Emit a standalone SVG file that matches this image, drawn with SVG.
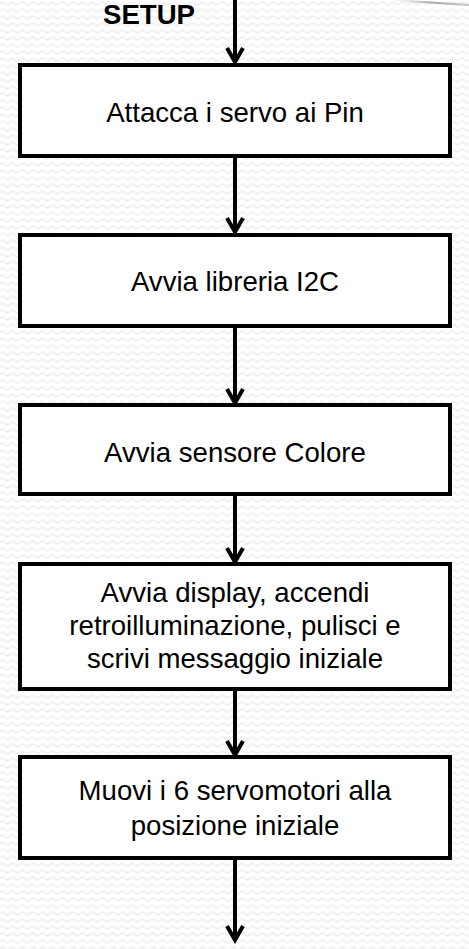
<svg xmlns="http://www.w3.org/2000/svg" width="469" height="949" viewBox="0 0 469 949">
<defs>
<pattern id="wave" width="10" height="7" patternUnits="userSpaceOnUse">
<rect width="10" height="7" fill="#ffffff"/>
<path d="M0 3.5 Q2.5 1 5 3.5 T10 3.5" fill="none" stroke="#f1f1f1" stroke-width="2"/>
</pattern>
<linearGradient id="edge" x1="0" y1="0" x2="1" y2="0">
<stop offset="0" stop-color="#d0d0d0" stop-opacity="0"/>
<stop offset="0.5" stop-color="#a8a8a8"/>
<stop offset="1" stop-color="#c8c8c8"/>
</linearGradient>
<marker id="arr" markerUnits="userSpaceOnUse" markerWidth="24" markerHeight="24" refX="20" refY="12" orient="auto" viewBox="0 0 24 24">
<polyline points="6,4 20,12 6,20" fill="none" stroke="#000" stroke-width="4" stroke-linejoin="miter"/>
</marker>
</defs>
<style>
.box{fill:#ffffff;stroke:#000;stroke-width:4}
.t{font-family:"Liberation Sans",Arial,sans-serif;font-size:27.6px;fill:#000;text-anchor:middle}
.c{fill:none;stroke:#000;stroke-width:4}
</style>
<rect width="469" height="949" fill="url(#wave)"/>
<path d="M392 0 L469 5" stroke="url(#edge)" stroke-width="2" fill="none"/>
<text x="149" y="24" class="t" style="font-weight:bold">SETUP</text>
<g id="connectors">
<line class="c" x1="235" y1="0" x2="235" y2="62" marker-end="url(#arr)"/>
<line class="c" x1="235" y1="156" x2="235" y2="232" marker-end="url(#arr)"/>
<line class="c" x1="235" y1="326" x2="235" y2="403" marker-end="url(#arr)"/>
<line class="c" x1="235" y1="494" x2="235" y2="562" marker-end="url(#arr)"/>
<line class="c" x1="235" y1="689" x2="235" y2="755" marker-end="url(#arr)"/>
<line class="c" x1="235" y1="858" x2="235" y2="940" marker-end="url(#arr)"/>
</g>
<g id="n1">
<rect class="box" x="20" y="65" width="430" height="91"/>
<text class="t" x="235" y="122">Attacca i servo ai Pin</text>
</g>
<g id="n2">
<rect class="box" x="20" y="235" width="430" height="91"/>
<text class="t" x="235" y="291">Avvia libreria I2C</text>
</g>
<g id="n3">
<rect class="box" x="20" y="405" width="430" height="89"/>
<text class="t" x="235" y="462">Avvia sensore Colore</text>
</g>
<g id="n4">
<rect class="box" x="20" y="564" width="430" height="125"/>
<text class="t" x="235" y="602">Avvia display, accendi</text>
<text class="t" x="235" y="635">retroilluminazione, pulisci e</text>
<text class="t" x="235" y="668">scrivi messaggio iniziale</text>
</g>
<g id="n5">
<rect class="box" x="20" y="757" width="430" height="101"/>
<text class="t" x="235" y="800">Muovi i 6 servomotori alla</text>
<text class="t" x="235" y="835">posizione iniziale</text>
</g>
</svg>
